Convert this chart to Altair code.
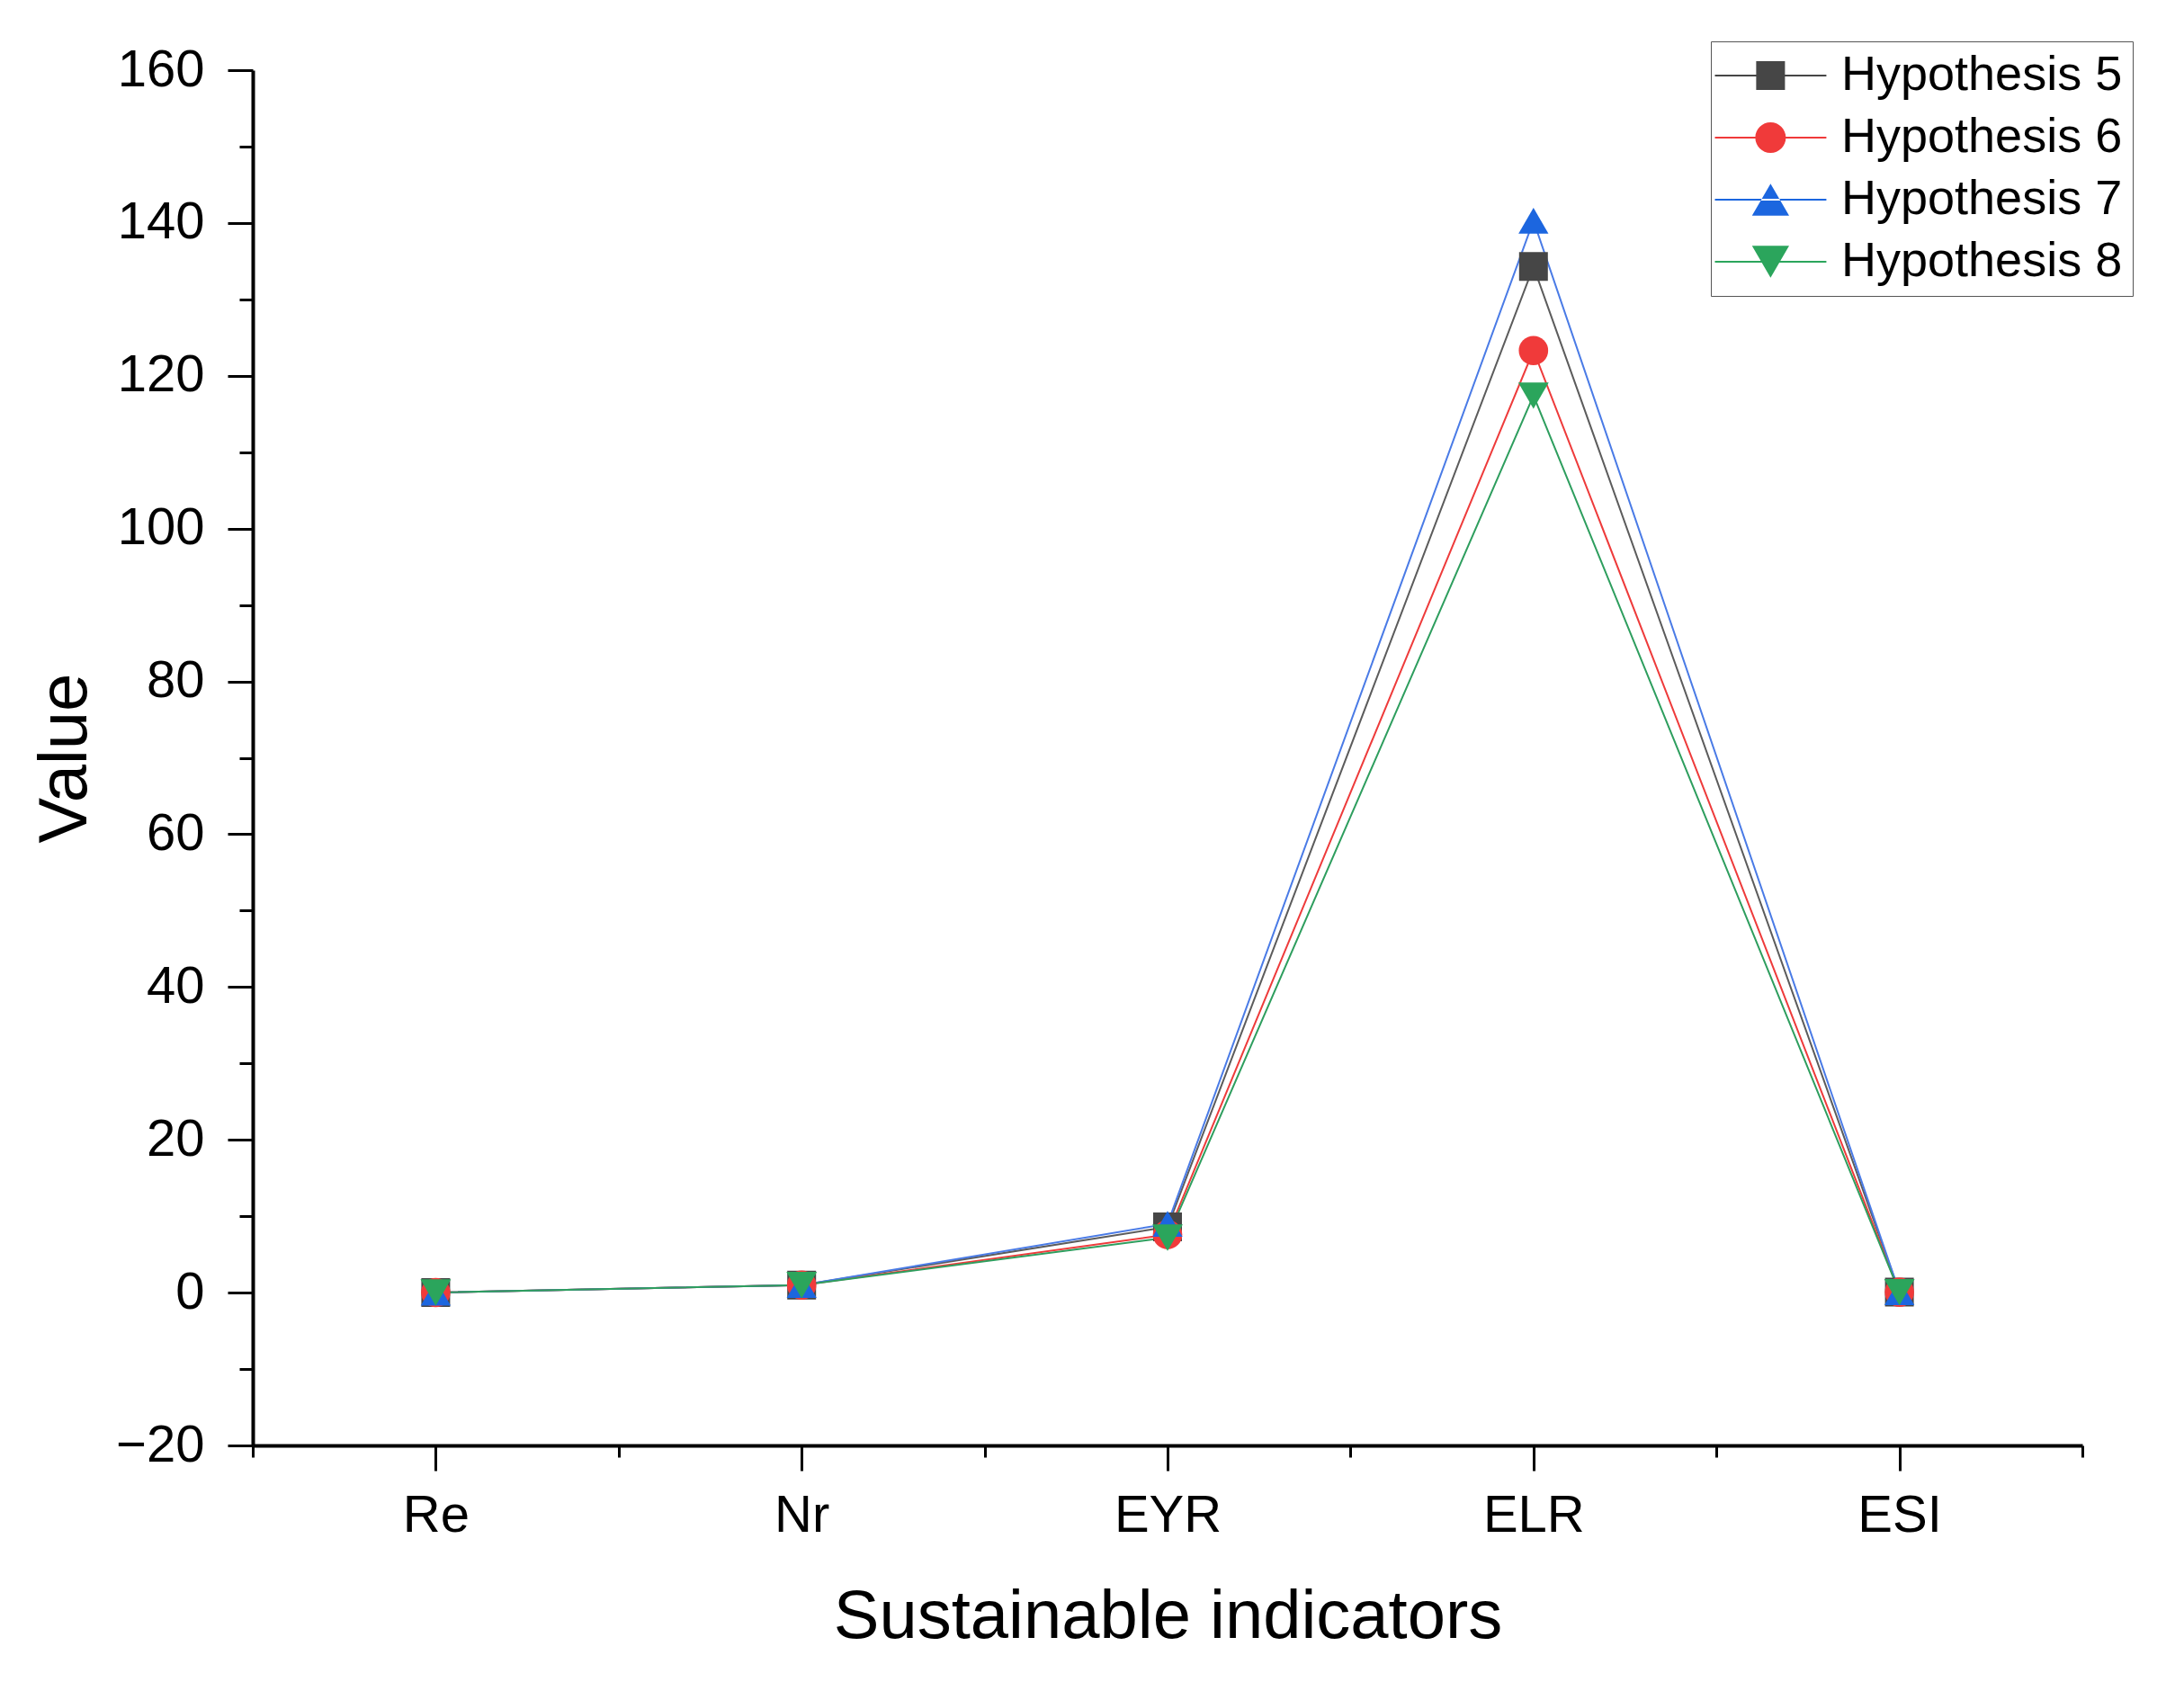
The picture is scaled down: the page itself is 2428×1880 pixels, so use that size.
import json
import altair as alt
import pandas as pd

# ---------------- data ----------------
categories = ["Re", "Nr", "EYR", "ELR", "ESI"]
series_names = ["Hypothesis 5", "Hypothesis 6", "Hypothesis 7", "Hypothesis 8"]
hyp5 = [0.0074, 0.99, 8.6, 134.3, 0.064]
hyp6 = [0.0081, 0.99, 7.6, 123.3, 0.062]
hyp7 = [0.0071, 0.99, 9.0, 140.3, 0.064]
hyp8 = [0.0084, 0.99, 7.2, 117.4, 0.061]
all_series = [hyp5, hyp6, hyp7, hyp8]

major_y = list(range(-20, 161, 20))
minor_y = list(range(-10, 160, 20))
major_x = list(range(len(categories)))
minor_x = [i - 0.5 for i in range(len(categories) + 1)]

# ---------------- styles ----------------
line_colors = ["#5c5c5c", "#ee3b3b", "#4a7be6", "#2e9e5e"]
marker_colors = ["#464646", "#f03a3a", "#1c66df", "#2ba55c"]
marker_shapes = ["square", "circle", "triangle-up", "triangle-down"]
marker_sizes = [1024, 1150, 1600, 1600]

# legend symbols: short line with the marker on it (unit = sqrt(size)/2)
seg = "M-2.03,-0.065H5.48V0.065H-2.03Z"
legend_paths = [
    seg + " M0.75,-0.97H2.69V0.97H0.75Z",
    seg + " M2.75,0C2.75,0.569 2.289,1.03 1.72,1.03C1.151,1.03 0.69,0.569 0.69,0"
          "C0.69,-0.569 1.151,-1.03 1.72,-1.03C2.289,-1.03 2.75,-0.569 2.75,0Z",
    seg + " M1.72,-1.08L0.47,1.08L2.97,1.08Z",
    seg + " M1.72,1.08L0.47,-1.08L2.97,-1.08Z",
]

FONT = "Liberation Sans"

rows = []
for name, vals in zip(series_names, all_series):
    for i, (cat, v) in enumerate(zip(categories, vals)):
        rows.append({"idx": i, "category": cat, "series": name, "key": name, "value": v})
df = pd.DataFrame(rows)

label_expr = json.dumps(categories) + "[datum.value]"
xscale = alt.Scale(domain=[-0.5, len(categories) - 0.5], nice=False, zero=False)
yscale = alt.Scale(domain=[-20, 160], nice=False, zero=False)

axis_common = dict(grid=False, domainColor="black", domainWidth=4, tickColor="black",
                   tickWidth=3, labelColor="black", labelFont=FONT, labelFontSize=58,
                   titleColor="black", titleFont=FONT, titleFontSize=76,
                   titleFontWeight="normal")

base = alt.Chart(df)

lines = base.mark_line(strokeWidth=2).encode(
    x=alt.X("idx:Q", scale=xscale,
            axis=alt.Axis(values=major_x, labelExpr=label_expr, orient="bottom",
                          title="Sustainable indicators", tickSize=28, labelPadding=21,
                          titlePadding=46, **axis_common)),
    y=alt.Y("value:Q", scale=yscale,
            axis=alt.Axis(values=major_y, orient="left", title="Value", tickSize=28,
                          labelPadding=26, titlePadding=17, **axis_common)),
    color=alt.Color("series:N", scale=alt.Scale(domain=series_names, range=line_colors),
                    legend=None),
    detail="series:N",
)

points = base.mark_point(filled=True, opacity=1, strokeWidth=0).encode(
    x=alt.X("idx:Q", scale=xscale, axis=None),
    y=alt.Y("value:Q", scale=yscale, axis=None),
    color=alt.Color("series:N", scale=alt.Scale(domain=series_names, range=marker_colors),
                    legend=None),
    shape=alt.Shape("series:N", scale=alt.Scale(domain=series_names, range=marker_shapes),
                    legend=None),
    size=alt.Size("series:N", scale=alt.Scale(domain=series_names, range=marker_sizes),
                  legend=None),
)

legend_props = dict(title=None, orient="none", legendX=1621, legendY=-32, padding=11,
                    rowPadding=15, labelFont=FONT, labelFontSize=54, labelColor="black",
                    labelOffset=80, labelLimit=1000, symbolSize=1089, symbolOpacity=1,
                    symbolStrokeWidth=0, strokeColor="#555555", fillColor="white")

legend_layer = base.mark_point(filled=True, opacity=1).encode(
    x=alt.X("idx:Q", scale=xscale,
            axis=alt.Axis(values=minor_x, labels=False, orient="bottom", title="",
                          tickSize=13, domain=False, grid=False, tickColor="black",
                          tickWidth=3)),
    y=alt.Y("value:Q", scale=yscale,
            axis=alt.Axis(values=minor_y, labels=False, orient="left", title="",
                          tickSize=15, domain=False, grid=False, tickColor="black",
                          tickWidth=3)),
    color=alt.Color("key:N", scale=alt.Scale(domain=series_names, range=marker_colors),
                    legend=alt.Legend(**legend_props)),
    shape=alt.Shape("key:N", scale=alt.Scale(domain=series_names, range=legend_paths),
                    legend=alt.Legend(**legend_props)),
    opacity=alt.value(0),
)

chart = (
    alt.layer(lines, points, legend_layer)
    .resolve_scale(color="independent", shape="independent", size="independent")
    .resolve_axis(x="independent", y="independent")
    .properties(width=2034, height=1529, background="white",
                autosize=alt.AutoSizeParams(type="none"),
                padding={"left": 273, "top": 70, "right": 100, "bottom": 260})
    .configure_view(stroke=None, strokeWidth=0)
    .configure_axis(grid=False)
)

chart.save("out.html", embed_options={"renderer": "svg", "actions": False})
